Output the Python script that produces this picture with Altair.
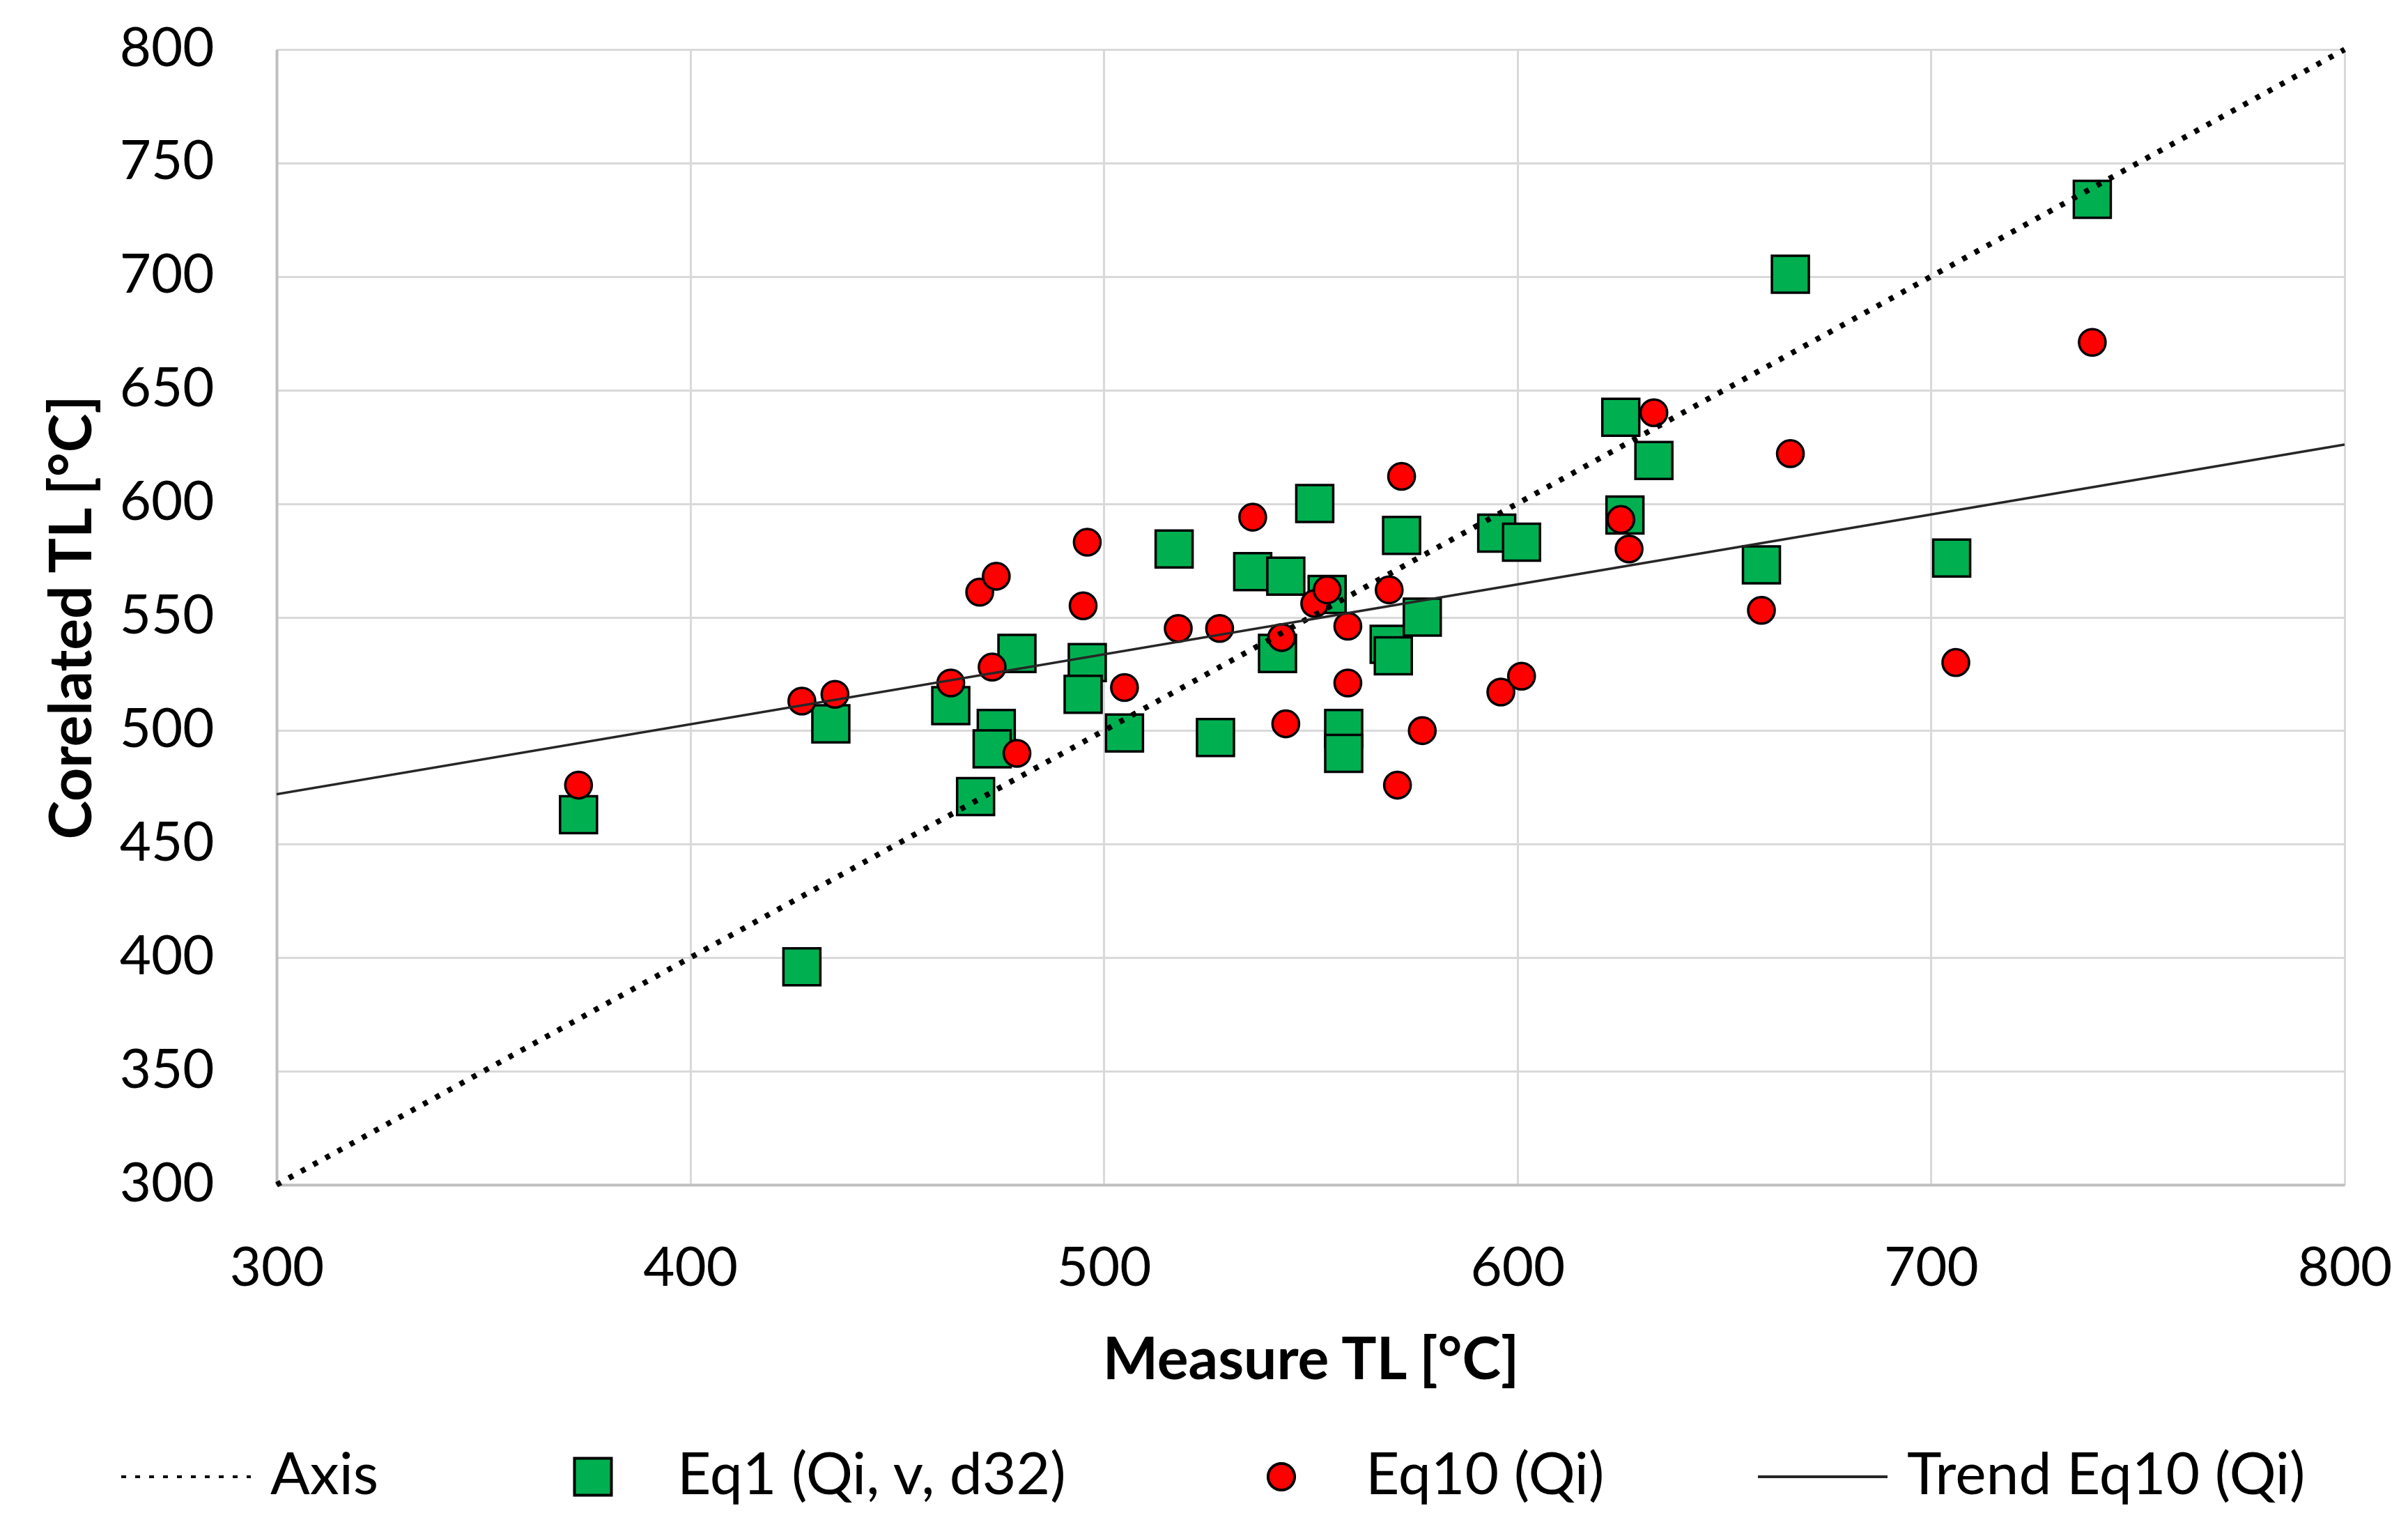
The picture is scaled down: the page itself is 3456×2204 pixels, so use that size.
import altair as alt
import pandas as pd

# ---- data ----
series_names = ["Axis", "Eq1 (Qi, v, d32)", "Eq10 (Qi)", "Trend Eq10 (Qi)"]

eq1_x = [373, 427, 434, 463, 474, 473, 469, 479, 496, 495, 505, 517, 527, 536, 544, 542, 551,
         554, 558, 558, 569, 570, 572, 577, 595, 601, 625, 626, 633, 659, 666, 705, 739]
eq1_y = [463, 396, 503, 511, 501, 492, 471, 534, 530, 516, 499, 580, 497, 570, 568, 534, 600,
         560, 501, 490, 538, 533, 586, 550, 587, 583, 638, 595, 619, 573, 701, 576, 734]

eq10_x = [373, 427, 435, 463, 470, 474, 473, 479, 495, 496, 505, 518, 528, 536, 543, 544, 551,
          554, 559, 559, 569, 571, 572, 577, 596, 601, 625, 627, 633, 659, 666, 706, 739]
eq10_y = [476, 513, 516, 521, 561, 568, 528, 490, 555, 583, 519, 545, 545, 594, 541, 503, 556,
          562, 546, 521, 562, 476, 612, 500, 517, 524, 593, 580, 640, 553, 622, 530, 671]

axis_x = [300, 800]
axis_y = [300, 800]
trend_x = [300, 800]
trend_y = [472, 626]

x_ticks = [300, 400, 500, 600, 700, 800]
y_ticks = [300, 350, 400, 450, 500, 550, 600, 650, 700, 750, 800]

# ---- tables ----
pts = pd.concat([
    pd.DataFrame({"x": eq1_x, "y": eq1_y, "series": series_names[1]}),
    pd.DataFrame({"x": eq10_x, "y": eq10_y, "series": series_names[2]}),
])
lines = pd.concat([
    pd.DataFrame({"x": axis_x, "y": axis_y, "series": series_names[0]}),
    pd.DataFrame({"x": trend_x, "y": trend_y, "series": series_names[3]}),
])

FONT = "Lato"
SYM = 34596  # symbol box (186 px) shared by legend and points

# custom symbol paths in the unit box [-1, 1] (scaled by sqrt(SYM)/2 = 93 px)
sq = 0.285
ci = 0.205
square_path = f"M{-sq},{-sq}H{sq}V{sq}H{-sq}Z"
circle_path = (f"M{ci},0A{ci},{ci},0,1,1,{-ci},0A{ci},{ci},0,1,1,{ci},0Z")

dom = series_names
fill_s = alt.Scale(domain=dom, range=["black", "#00B050", "#FF0000", "black"])
stroke_s = alt.Scale(domain=dom, range=["black", "black", "black", "#262626"])
shape_s = alt.Scale(domain=dom, range=["stroke", square_path, circle_path, "stroke"])
dash_s = alt.Scale(domain=dom, range=[[7, 13], [1, 0], [1, 0], [1, 0]])

leg = alt.Legend(
    title=None, orient="none", legendX=-225, legendY=1953, direction="horizontal",
    labelFont=FONT, labelFontSize=84, labelColor="black", labelOffset=26,
    symbolSize=SYM, symbolStrokeWidth=4, columnPadding=212, labelLimit=2000,
    symbolOpacity=1,
)

xenc = alt.X("x:Q", scale=alt.Scale(domain=[300, 800], nice=False, zero=False),
             axis=alt.Axis(values=x_ticks, title="Measure TL [°C]", labelPadding=82,
                           labelFlush=False, titleY=253, titleBaseline="middle"))
yenc = alt.Y("y:Q", scale=alt.Scale(domain=[300, 800], nice=False, zero=False),
             axis=alt.Axis(values=y_ticks, title="Corelated TL [°C]", labelPadding=90,
                           labelFlush=False, titleX=-292, titleAngle=270,
                           titleBaseline="middle"))


def point_layer(name):
    return alt.Chart(pts).transform_filter(alt.datum.series == name).mark_point(
        filled=True, opacity=1, strokeWidth=3.5, size=SYM
    ).encode(
        x=xenc, y=yenc,
        fill=alt.Fill("series:N", scale=fill_s, legend=leg),
        stroke=alt.Stroke("series:N", scale=stroke_s, legend=leg),
        shape=alt.Shape("series:N", scale=shape_s, legend=leg),
    )


def line_layer(name, width):
    return alt.Chart(lines).transform_filter(alt.datum.series == name).mark_line(
        strokeWidth=width, strokeCap="butt"
    ).encode(
        x=xenc, y=yenc,
        stroke=alt.Stroke("series:N", scale=stroke_s, legend=leg),
        strokeDash=alt.StrokeDash("series:N", scale=dash_s, legend=leg),
    )


squares = point_layer(series_names[1])
circles = point_layer(series_names[2])
axis_line = line_layer(series_names[0], 8)
trend_line = line_layer(series_names[3], 3.5)

chart = alt.layer(squares, circles, axis_line, trend_line).properties(
    width=2968, height=1629,
    autosize=alt.AutoSizeParams(type="none"),
    padding={"left": 389, "top": 63, "right": 83, "bottom": 496},
).configure_view(stroke=None).configure_axis(
    grid=True, gridColor="#D9D9D9", gridWidth=3,
    domainColor="#BFBFBF", domainWidth=4, ticks=False,
    labelFont=FONT, labelFontSize=78, labelColor="black",
    titleFont=FONT, titleFontSize=84, titleFontWeight="bold", titleColor="black",
)

chart.save("out.html", embed_options={"renderer": "svg", "actions": False})
